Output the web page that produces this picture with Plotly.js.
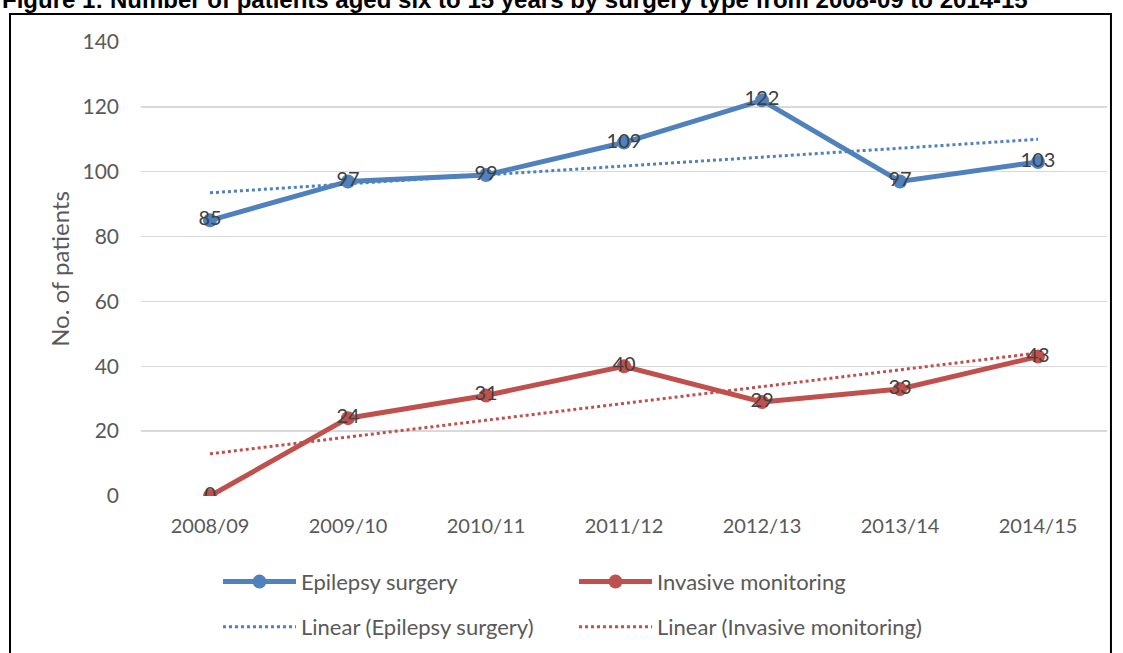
<!DOCTYPE html>
<html>
<head>
<meta charset="utf-8">
<script src="https://cdn.plot.ly/plotly-3.0.1.min.js"></script>
<style>html,body{margin:0;padding:0;background:#fff;}#chart{width:1123px;height:653px;}</style>
</head>
<body>
<div id="chart"></div>
<script>
const years = ["2008/09","2009/10","2010/11","2011/12","2012/13","2013/14","2014/15"];
const epilepsy = [85, 97, 99, 109, 122, 97, 103];
const invasive = [0, 24, 31, 40, 29, 33, 43];
// trend line endpoints (first and last category)
const trendYears = ["2008/09","2014/15"];
const epilepsyTrend = [93.5, 110];
const invasiveTrend = [13, 44.1];
const yTicks = [0, 20, 40, 60, 80, 100, 120, 140];

const blue = "#4F81BD", red = "#C0504D";
const FONT = "Lato, 'Open Sans', sans-serif";

const traces = [
  {x: trendYears, y: epilepsyTrend, mode: "lines", name: "Linear (Epilepsy surgery)",
   line: {color: blue, width: 3, dash: "dot"}, legend: "legend2", hoverinfo: "skip"},
  {x: trendYears, y: invasiveTrend, mode: "lines", name: "Linear (Invasive monitoring)",
   line: {color: red, width: 3, dash: "dot"}, legend: "legend2", hoverinfo: "skip"},
  {x: years, y: epilepsy, mode: "lines+markers", name: "Epilepsy surgery",
   line: {color: blue, width: 5}, marker: {color: blue, size: 14}, legend: "legend"},
  {x: years, y: invasive, mode: "lines+markers", name: "Invasive monitoring",
   line: {color: red, width: 5}, marker: {color: red, size: 14}, legend: "legend"},
  {x: years, y: epilepsy, mode: "text", text: epilepsy.map(String), textposition: "middle center",
   textfont: {family: FONT, size: 20, color: "#404040"}, showlegend: false, hoverinfo: "skip"},
  {x: years, y: invasive, mode: "text", text: invasive.map(String), textposition: "middle center",
   textfont: {family: FONT, size: 20, color: "#404040"}, showlegend: false, hoverinfo: "skip"}
];

const legendCommon = {
  orientation: "h", xanchor: "left", yanchor: "middle",
  font: {family: FONT, size: 22, color: "#595959"},
  entrywidth: 268, entrywidthmode: "pixels", itemwidth: 73,
  bgcolor: "rgba(0,0,0,0)", traceorder: "normal"
};

const layout = {
  width: 1123, height: 653,
  margin: {l: 141, r: 16, t: 42, b: 157, autoexpand: false},
  paper_bgcolor: "#fff", plot_bgcolor: "#fff",
  font: {family: FONT, color: "#595959"},
  showlegend: true,
  xaxis: {
    type: "category", categoryarray: years, range: [-0.5, 6.5], automargin: false,
    showgrid: false, zeroline: false, showline: false, ticks: "",
    tickfont: {family: FONT, size: 20, color: "#595959"},
    ticklabelstandoff: 16, fixedrange: true
  },
  yaxis: {
    range: [0, 140], tickvals: yTicks, ticktext: yTicks.map(String), automargin: false,
    showgrid: true, gridcolor: "#D9D9D9", gridwidth: 1.5, zeroline: false, showline: false,
    ticks: "", tickfont: {family: FONT, size: 21, color: "#595959"},
    ticklabelstandoff: 21,
    title: {text: "No. of patients", font: {family: FONT, size: 24, color: "#595959"}, standoff: 6},
    fixedrange: true
  },
  legend: Object.assign({}, legendCommon, {x: 0.0797, y: -0.189}),
  legend2: Object.assign({}, legendCommon, {x: 0.0797, y: -0.2885}),
  shapes: [
    {type: "rect", xref: "paper", yref: "paper", x0: -0.1356, x1: 1.0041, y0: -0.40, y1: 1.0617,
     line: {color: "#000", width: 2}, fillcolor: "rgba(0,0,0,0)", layer: "above"}
  ],
  annotations: [
    {text: "<b>Figure 1: Number of patients aged six to 15 years by surgery type from 2008-09 to 2014-15</b>",
     xref: "paper", yref: "paper", x: -0.146, y: 1.0595, xanchor: "left", yanchor: "bottom",
     showarrow: false, font: {family: "Liberation Sans, Arial, sans-serif", size: 24, color: "#000"}}
  ]
};

Plotly.newPlot("chart", traces, layout, {displayModeBar: false, staticPlot: true});
</script>
</body>
</html>
